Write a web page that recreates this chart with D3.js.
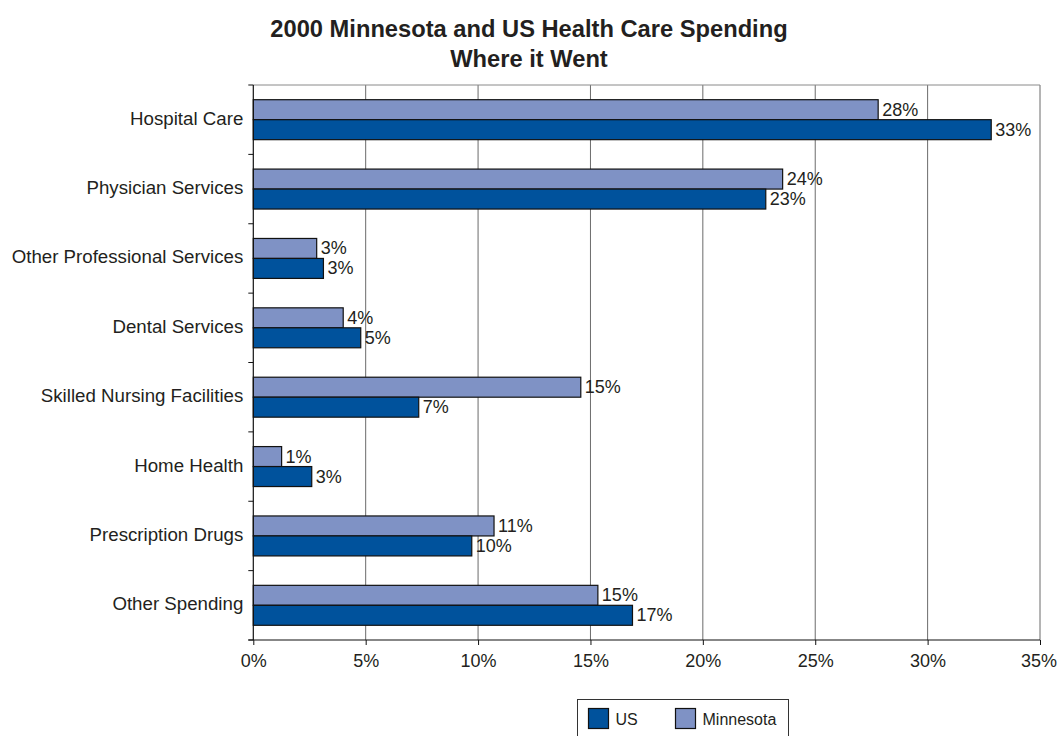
<!DOCTYPE html>
<html>
<head>
<meta charset="utf-8">
<script src="https://cdn.jsdelivr.net/npm/d3@7"></script>
<style>
  html, body { margin: 0; padding: 0; background: #fff; }
  svg { display: block; font-family: "Liberation Sans", Arial, Helvetica, sans-serif; }
</style>
</head>
<body>
<svg id="chart" width="1057" height="736"></svg>
<script>
// Share of personal health care spending by category, 2000 (percent)
const categories = [
  "Hospital Care",
  "Physician Services",
  "Other Professional Services",
  "Dental Services",
  "Skilled Nursing Facilities",
  "Home Health",
  "Prescription Drugs",
  "Other Spending"
];
const usValues = [32.83, 22.8, 3.12, 4.78, 7.36, 2.6, 9.72, 16.87];
const mnValues = [27.8, 23.55, 2.82, 4.0, 14.57, 1.26, 10.71, 15.33];
const seriesNames = ["Minnesota", "US"];
const xTicks = [0, 5, 10, 15, 20, 25, 30, 35];
const titleLines = ["2000 Minnesota and US Health Care Spending", "Where it Went"];
const legendItems = ["US", "Minnesota"];

const colors = { "US": "#00529c", "Minnesota": "#7f92c5" };
const textColor = "#231f20";

const svg = d3.select("#chart");
const plot = { left: 253.3, right: 1040, top: 85, bottom: 640 };

const x = d3.scaleLinear().domain([0, 35]).range([plot.left, plot.right]);
const y = d3.scaleBand().domain(categories).range([plot.top, plot.bottom])
  .paddingInner(0.424).paddingOuter(0.212);
const ySub = d3.scaleBand().domain(seriesNames).range([0, y.bandwidth()]);

const rows = categories.map((c, i) => ({
  category: c,
  values: [
    { series: "Minnesota", value: mnValues[i] },
    { series: "US", value: usValues[i] }
  ]
}));

// Title
svg.append("g").selectAll("text").data(titleLines).join("text")
  .attr("x", 529)
  .attr("y", (d, i) => 37 + i * 30)
  .attr("text-anchor", "middle")
  .attr("font-size", 23.7)
  .attr("font-weight", "bold")
  .attr("fill", textColor)
  .text(d => d);

// Vertical gridlines
svg.append("g").selectAll("line").data(xTicks.filter(t => t > 0)).join("line")
  .attr("x1", d => x(d)).attr("x2", d => x(d))
  .attr("y1", plot.top).attr("y2", plot.bottom)
  .attr("stroke", "#6b6b6b").attr("stroke-width", 1);

// Top border of plot area
svg.append("line")
  .attr("x1", plot.left).attr("x2", plot.right)
  .attr("y1", plot.top).attr("y2", plot.top)
  .attr("stroke", "#8a8a8a").attr("stroke-width", 1);

// Bars
const groups = svg.append("g").selectAll("g").data(rows).join("g")
  .attr("transform", d => `translate(0,${y(d.category)})`);

groups.selectAll("rect").data(d => d.values).join("rect")
  .attr("x", x(0))
  .attr("y", d => ySub(d.series))
  .attr("width", d => x(d.value) - x(0))
  .attr("height", ySub.bandwidth())
  .attr("fill", d => colors[d.series])
  .attr("stroke", "#111")
  .attr("stroke-width", 1.2);

// Value labels
const fmt = d3.format(".0f");
groups.selectAll("text").data(d => d.values).join("text")
  .attr("x", d => x(d.value) + 4)
  .attr("y", d => ySub(d.series) + ySub.bandwidth() / 2 + 6)
  .attr("font-size", 18)
  .attr("fill", textColor)
  .text(d => fmt(d.value) + "%");

// X axis
const xAxis = d3.axisBottom(x)
  .tickValues(xTicks)
  .tickFormat(d => d + "%")
  .tickSize(5)
  .tickPadding(9);
const gx = svg.append("g")
  .attr("transform", `translate(0,${plot.bottom})`)
  .call(xAxis);
gx.select(".domain").remove();
gx.selectAll(".tick line").attr("stroke", "#111");
gx.selectAll(".tick text")
  .attr("font-size", 18)
  .attr("font-family", "Liberation Sans, Arial, sans-serif")
  .attr("fill", textColor);
// keep the rightmost tick label inside the page edge
gx.selectAll(".tick text").filter(d => d === xTicks[xTicks.length - 1])
  .attr("text-anchor", "end").attr("x", 16.5);
svg.append("line")
  .attr("x1", plot.left - 5).attr("x2", plot.right)
  .attr("y1", plot.bottom).attr("y2", plot.bottom)
  .attr("stroke", "#111").attr("stroke-width", 1.2);

// Y axis: line, boundary ticks and category labels
svg.append("line")
  .attr("x1", plot.left).attr("x2", plot.left)
  .attr("y1", plot.top).attr("y2", plot.bottom)
  .attr("stroke", "#111").attr("stroke-width", 1.2);

const boundaries = d3.range(categories.length + 1)
  .map(i => y.range()[0] + i * y.step());
svg.append("g").selectAll("line").data(boundaries).join("line")
  .attr("x1", plot.left - 5).attr("x2", plot.left)
  .attr("y1", d => d).attr("y2", d => d)
  .attr("stroke", "#111").attr("stroke-width", 1);

svg.append("g").selectAll("text").data(categories).join("text")
  .attr("x", plot.left - 10)
  .attr("y", d => y(d) + y.bandwidth() / 2 + 5)
  .attr("text-anchor", "end")
  .attr("font-size", 18.7)
  .attr("fill", textColor)
  .text(d => d);

// Legend
const legend = svg.append("g");
legend.append("rect")
  .attr("x", 577.5).attr("y", 699.5)
  .attr("width", 211).attr("height", 40)
  .attr("fill", "#fff").attr("stroke", "#333").attr("stroke-width", 1);

const legendX = [588.5, 675.5];
const li = legend.selectAll("g.item").data(legendItems).join("g")
  .attr("class", "item")
  .attr("transform", (d, i) => `translate(${legendX[i]},708.5)`);
li.append("rect")
  .attr("width", 20).attr("height", 20)
  .attr("fill", d => colors[d])
  .attr("stroke", "#111").attr("stroke-width", 1.2);
li.append("text")
  .attr("x", 27).attr("y", 16.5)
  .attr("font-size", 16)
  .attr("fill", textColor)
  .text(d => d);
</script>
</body>
</html>
